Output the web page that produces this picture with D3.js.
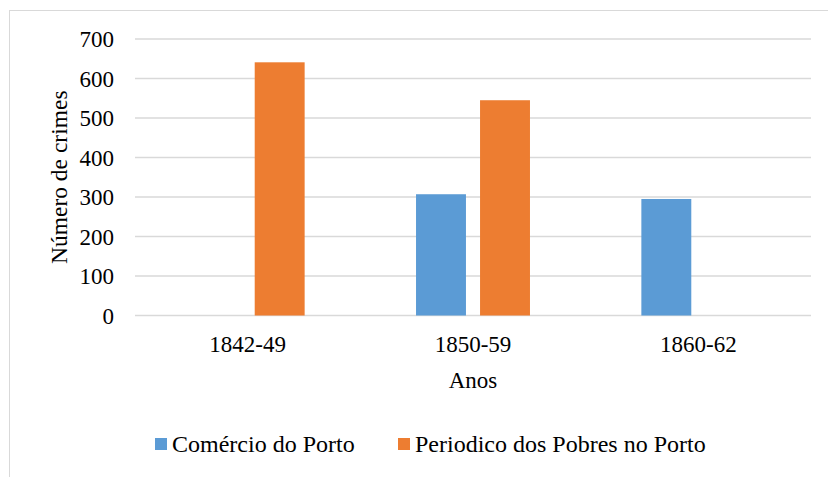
<!DOCTYPE html>
<html lang="pt">
<head>
<meta charset="utf-8">
<title>Número de crimes</title>
<script src="https://cdn.jsdelivr.net/npm/d3@7"></script>
<style>
  body { margin: 0; background: #fff; }
  svg text { font-family: "Liberation Serif", "Times New Roman", serif; fill: #000; }
</style>
</head>
<body>
<script>
// data
var categories = ["1842-49", "1850-59", "1860-62"];
var seriesNames = ["Comércio do Porto", "Periodico dos Pobres no Porto"];
var comercio = [null, 307, 295];
var periodico = [641, 545, null];
var yTicks = [0, 100, 200, 300, 400, 500, 600, 700];
var colors = ["#5b9bd5", "#ed7d31"];

var W = 828, H = 477;
var plotL = 135, plotR = 811, plotT = 39, plotB = 315.5;

var svg = d3.select("body").append("svg")
    .attr("width", W)
    .attr("height", H);

// outer chart frame (runs off the right and bottom)
svg.append("rect")
    .attr("x", 9.5).attr("y", 10.5)
    .attr("width", 840).attr("height", 490)
    .attr("fill", "none")
    .attr("stroke", "#d9d9d9")
    .attr("stroke-width", 1);

var x = d3.scaleBand()
    .domain(categories)
    .range([plotL, plotR])
    .paddingInner(0).paddingOuter(0);

var x1 = d3.scaleBand()
    .domain([0, 1])
    .range([0, x.bandwidth()])
    .paddingInner(0.22)
    .paddingOuter(0.87);

var y = d3.scaleLinear()
    .domain([0, 700])
    .range([plotB, plotT]);

// gridlines
svg.append("g").selectAll("line")
    .data(yTicks)
    .enter().append("line")
    .attr("x1", plotL).attr("x2", plotR)
    .attr("y1", function(d) { return y(d); })
    .attr("y2", function(d) { return y(d); })
    .attr("stroke", "#d9d9d9")
    .attr("stroke-width", 1.3);

// y tick labels
svg.append("g").selectAll("text")
    .data(yTicks)
    .enter().append("text")
    .attr("x", 114)
    .attr("y", function(d) { return y(d) + 8; })
    .attr("text-anchor", "end")
    .attr("font-size", "23px")
    .text(function(d) { return d; });

// bars
var rows = categories.map(function(c, i) {
  return [
    { cat: c, s: 0, v: comercio[i] },
    { cat: c, s: 1, v: periodico[i] }
  ];
});

svg.append("g").selectAll("g")
    .data(rows)
    .enter().append("g")
    .attr("transform", function(d) { return "translate(" + x(d[0].cat) + ",0)"; })
  .selectAll("rect")
    .data(function(d) { return d.filter(function(e) { return e.v != null; }); })
    .enter().append("rect")
    .attr("x", function(d) { return x1(d.s); })
    .attr("width", x1.bandwidth())
    .attr("y", function(d) { return y(d.v); })
    .attr("height", function(d) { return y(0) - y(d.v); })
    .attr("fill", function(d) { return colors[d.s]; });

// category labels
svg.append("g").selectAll("text")
    .data(categories)
    .enter().append("text")
    .attr("x", function(d) { return x(d) + x.bandwidth() / 2; })
    .attr("y", 352)
    .attr("text-anchor", "middle")
    .attr("font-size", "23px")
    .text(function(d) { return d; });

// axis titles
svg.append("text")
    .attr("x", (plotL + plotR) / 2)
    .attr("y", 388)
    .attr("text-anchor", "middle")
    .attr("font-size", "23px")
    .text("Anos");

svg.append("text")
    .attr("transform", "translate(67," + ((plotT + plotB) / 2) + ") rotate(-90)")
    .attr("text-anchor", "middle")
    .attr("font-size", "23.5px")
    .text("Número de crimes");

// legend
var legX = [155, 398];
var leg = svg.append("g").selectAll("g")
    .data(seriesNames)
    .enter().append("g")
    .attr("transform", function(d, i) { return "translate(" + legX[i] + ",0)"; });

leg.append("rect")
    .attr("x", 0).attr("y", 438)
    .attr("width", 12).attr("height", 12)
    .attr("fill", function(d, i) { return colors[i]; });

leg.append("text")
    .attr("x", 17)
    .attr("y", 452)
    .attr("font-size", "24px")
    .text(function(d) { return d; });
</script>
</body>
</html>
